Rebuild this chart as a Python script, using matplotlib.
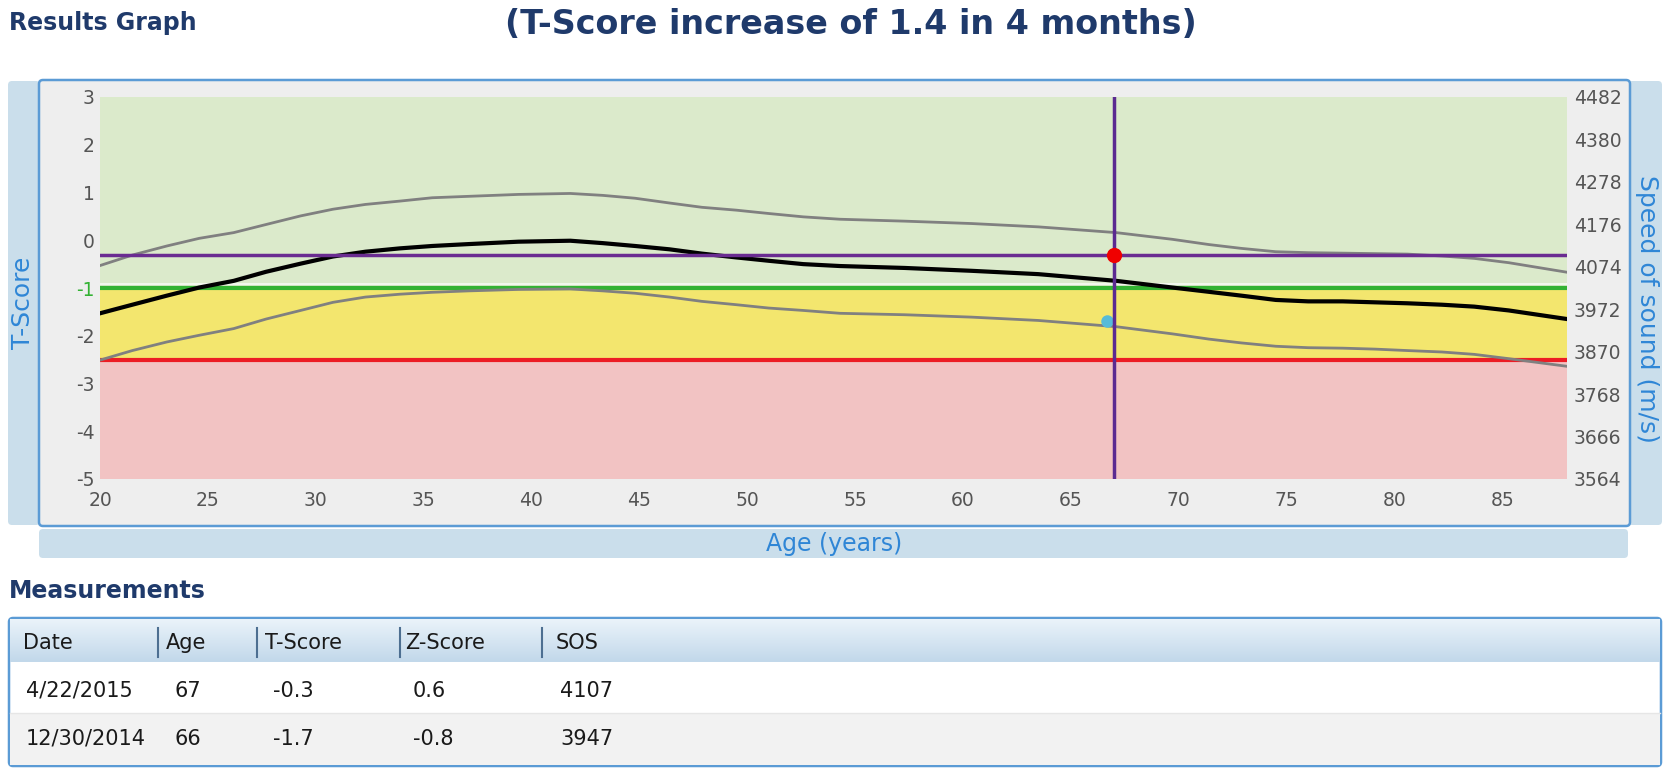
import numpy as np
import matplotlib.pyplot as plt
from matplotlib.colors import LinearSegmentedColormap
from matplotlib.patches import FancyBboxPatch, Rectangle

W, H = 1671, 769

# curva de referencia (T-Score por edad)
edades = [20.0, 21.5, 23.1, 24.6, 26.2, 27.7, 29.3, 30.8, 32.3, 33.9, 35.4, 37.1, 39.4, 41.8,
          43.3, 44.8, 46.4, 47.9, 49.5, 51.0, 52.6, 54.3, 57.3, 60.4, 63.5, 67.1, 69.7, 71.4,
          72.9, 74.5, 76.0, 77.6, 79.1, 80.6, 82.2, 83.7, 85.3, 88.0]
media = [-1.53, -1.35, -1.16, -0.99, -0.85, -0.66, -0.49, -0.34, -0.24, -0.17, -0.12, -0.08, -0.03, -0.01,
         -0.06, -0.12, -0.19, -0.28, -0.36, -0.43, -0.50, -0.54, -0.58, -0.64, -0.71, -0.85, -0.99, -1.08,
         -1.16, -1.25, -1.28, -1.28, -1.30, -1.32, -1.35, -1.39, -1.47, -1.65]
sd_sup = [-0.53, -0.31, -0.12, 0.04, 0.16, 0.33, 0.51, 0.65, 0.75, 0.82, 0.89, 0.92, 0.96, 0.98,
          0.94, 0.88, 0.78, 0.69, 0.63, 0.56, 0.49, 0.44, 0.40, 0.35, 0.28, 0.16, 0.02, -0.09,
          -0.17, -0.24, -0.26, -0.27, -0.28, -0.29, -0.33, -0.38, -0.47, -0.67]
sd_inf = [-2.51, -2.31, -2.13, -1.99, -1.85, -1.65, -1.47, -1.30, -1.19, -1.13, -1.09, -1.06, -1.03, -1.02,
          -1.06, -1.11, -1.19, -1.28, -1.35, -1.42, -1.47, -1.53, -1.56, -1.61, -1.68, -1.81, -1.96, -2.07,
          -2.15, -2.22, -2.25, -2.26, -2.28, -2.31, -2.34, -2.39, -2.48, -2.64]

# mediciones
fechas = ['4/22/2015', '12/30/2014']
edad_med = [67, 66]
edad_exacta = [67.0, 66.7]
t_score = [-0.3, -1.7]
z_score = [0.6, -0.8]
sos = [4107, 3947]

t_ticks = [-5, -4, -3, -2, -1, 0, 1, 2, 3]
sos_ticks = [3564, 3666, 3768, 3870, 3972, 4074, 4176, 4278, 4380, 4482]
x_ticks = [20, 25, 30, 35, 40, 45, 50, 55, 60, 65, 70, 75, 80, 85]

NAVY = '#1f3a6b'
AZUL = '#2f86d6'
BORDE = '#5b9bd5'
BARRA = '#cadeeb'
GRIS = '#555555'

fig = plt.figure(figsize=(W / 100, H / 100), dpi=100)

# lienzo en pixeles para cajas y textos
cv = fig.add_axes([0, 0, 1, 1], zorder=0)
cv.set_xlim(0, W)
cv.set_ylim(H, 0)
cv.axis('off')

def caja(x0, y0, x1, y1, fc, ec='none', lw=0, r=4):
    cv.add_patch(FancyBboxPatch((x0, y0), x1 - x0, y1 - y0,
                                boxstyle=f'round,pad=0,rounding_size={r}',
                                fc=fc, ec=ec, lw=lw))

caja(8, 81, 40, 525, BARRA)
caja(1628, 81, 1662, 525, BARRA)
caja(39, 529, 1628, 558, BARRA)
caja(39, 80, 1630, 526, '#eeeeee', BORDE, 1.8)

cv.text(9, 23, 'Results Graph', fontsize=17, fontweight='bold', color=NAVY, va='center', ha='left')
cv.text(851, 24, '(T-Score increase of 1.4 in 4 months)', fontsize=24, fontweight='bold',
        color=NAVY, va='center', ha='center')
cv.text(23, 303, 'T-Score', fontsize=18, color=AZUL, rotation=90, va='center', ha='center')
cv.text(1647, 309, 'Speed of sound (m/s)', fontsize=18, color=AZUL, rotation=270, va='center', ha='center')
cv.text(834, 544, 'Age (years)', fontsize=17, color=AZUL, va='center', ha='center')

# tabla de mediciones
cv.text(9, 591, 'Measurements', fontsize=17, fontweight='bold', color=NAVY, va='center', ha='left')
caja(9, 618, 1661, 766, 'white', BORDE, 1.8)
grad = np.linspace(0, 1, 50).reshape(-1, 1)
cmap_hdr = LinearSegmentedColormap.from_list('hdr', ['#eaf3fa', '#c2d8ea'])
cv.imshow(grad, extent=(10, 1660, 662, 619), origin='upper', cmap=cmap_hdr, aspect='auto', zorder=2)
cv.add_patch(Rectangle((10, 713), 1650, 52, fc='#f2f2f2', ec='none', zorder=2))
cv.plot([10, 1660], [713, 713], color='#e6e6e6', lw=1, zorder=3)

col_x = [23, 166, 265, 405, 556]
fila_x = [26, 175, 273, 413, 560]
sep_x = [158, 257, 400, 542]
for sx in sep_x:
    cv.plot([sx, sx], [628, 657], color='#4d6f91', lw=1.5, zorder=3)
for cx, nombre in zip(col_x, ['Date', 'Age', 'T-Score', 'Z-Score', 'SOS']):
    cv.text(cx, 643, nombre, fontsize=15, color='#1a1a1a', va='center', ha='left', zorder=4)
for i, yy in enumerate([691, 739]):
    vals = [fechas[i], str(edad_med[i]), f'{t_score[i]:.1f}', f'{z_score[i]:.1f}', str(sos[i])]
    for cx, v in zip(fila_x, vals):
        cv.text(cx, yy, v, fontsize=15, color='#1a1a1a', va='center', ha='left', zorder=4)

# grafica principal
ax = fig.add_axes([100 / W, 1 - 479 / H, 1467 / W, 382 / H], zorder=2)
ax.set_xlim(20, 88)
ax.set_ylim(-5, 3)

ax.axhspan(-1, 3, color='#dbeacb', lw=0)
ax.axhspan(-2.5, -1, color='#f3e66e', lw=0)
ax.axhspan(-5, -2.5, color='#f2c3c3', lw=0)
ax.axhline(-0.91, color='white', lw=1.2, alpha=0.8)
ax.axhline(-1, color='#33b233', lw=3)
ax.axhline(-2.5, color='#ec1c24', lw=3)

ax.plot(edades, sd_sup, color='#808080', lw=2)
ax.plot(edades, sd_inf, color='#808080', lw=2)
ax.plot(edades, media, color='black', lw=3)

ax.plot(edad_exacta[1], t_score[1], 'o', color='#56bbd9', ms=9, mec='none', zorder=4)
ax.axhline(t_score[0], color='#6a2c91', lw=2.5, zorder=5)
ax.axvline(edad_exacta[0], color='#5b2a91', lw=2.5, zorder=5)
ax.plot(edad_exacta[0], t_score[0], 'o', color='#f00000', ms=11, mec='none', zorder=6)

ax.set_xticks(x_ticks)
ax.set_xticklabels([str(v) for v in x_ticks])
ax.set_yticks(t_ticks)
ax.set_yticklabels([str(v) for v in t_ticks])
for lab in ax.get_yticklabels():
    if lab.get_text() == '-1':
        lab.set_color('#33b233')
    else:
        lab.set_color(GRIS)
ax.tick_params(axis='x', length=0, pad=9, labelsize=13.5, labelcolor=GRIS)
ax.tick_params(axis='y', length=0, pad=4, labelsize=13.5)
for s in ax.spines.values():
    s.set_visible(False)

ax2 = ax.twinx()
ax2.set_ylim(sos_ticks[0], sos_ticks[-1])
ax2.set_yticks(sos_ticks)
ax2.set_yticklabels([str(v) for v in sos_ticks])
ax2.tick_params(axis='y', length=0, pad=5, labelsize=13.5, labelcolor=GRIS)
for s in ax2.spines.values():
    s.set_visible(False)

fig.savefig('out.png', dpi=100)
